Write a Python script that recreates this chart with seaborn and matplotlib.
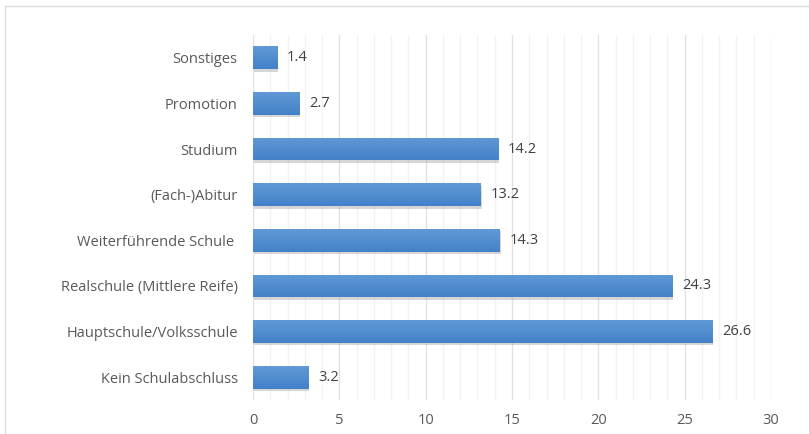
import numpy as np
import pandas as pd
import matplotlib
matplotlib.use("Agg")
import matplotlib.pyplot as plt
import matplotlib.patheffects as pe
from matplotlib.ticker import MultipleLocator
import seaborn as sns

categories = [
    "Sonstiges",
    "Promotion",
    "Studium",
    "(Fach-)Abitur",
    "Weiterführende Schule ",
    "Realschule (Mittlere Reife)",
    "Hauptschule/Volksschule",
    "Kein Schulabschluss",
]
values = [1.4, 2.7, 14.2, 13.2, 14.3, 24.3, 26.6, 3.2]
x_ticks = [0, 5, 10, 15, 20, 25, 30]

df = pd.DataFrame({"Abschluss": categories, "Anteil": values})

sns.set_theme(style="white")
plt.rcParams["font.family"] = ["Open Sans", "DejaVu Sans"]

fig = plt.figure(figsize=(8.09, 4.34), dpi=100)
ax = fig.add_axes([0.3127, 0.0783, 0.6403, 0.841])

sns.barplot(data=df, x="Anteil", y="Abschluss", orient="h", ax=ax,
            color="#4F89CC", width=0.5, saturation=1)

# vertical gradient fill and soft drop shadow on every bar
grad = np.linspace(0, 1, 64).reshape(-1, 1)
cmap = matplotlib.colors.LinearSegmentedColormap.from_list(
    "bar", ["#6199D6", "#4381C8"])
for bar in ax.patches:
    bar.set_edgecolor("none")
    bar.set_path_effects([pe.SimplePatchShadow(offset=(0.5, -1.8),
                                               shadow_rgbFace="#8a8a8a",
                                               alpha=0.35),
                          pe.Normal()])
    x0, y0 = bar.get_x(), bar.get_y()
    w, h = bar.get_width(), bar.get_height()
    im = ax.imshow(grad, cmap=cmap, aspect="auto",
                   extent=(x0, x0 + w, y0 + h, y0), zorder=bar.get_zorder() + 0.1,
                   interpolation="bicubic")
    im.set_clip_path(bar)

for bar, v in zip(ax.patches, values):
    ax.annotate(f"{v}", xy=(v, bar.get_y() + bar.get_height() / 2),
                xytext=(7, 0), textcoords="offset points",
                va="center", ha="left", fontsize=10.5, color="#404040")

ax.set_xlim(0, 30)
ax.set_ylim(7.5, -0.5)
ax.set_xticks(x_ticks)
ax.xaxis.set_minor_locator(MultipleLocator(1))
ax.grid(axis="x", which="major", color="#E2E2E2", linewidth=1.0, zorder=0)
ax.grid(axis="x", which="minor", color="#F3F3F3", linewidth=1.0, zorder=0)
ax.set_axisbelow(True)
ax.set_xlabel("")
ax.set_ylabel("")
for s in ax.spines.values():
    s.set_visible(False)
ax.tick_params(axis="y", length=0, pad=11, labelsize=10.5, labelcolor="#595959")
ax.tick_params(axis="x", which="both", length=0, pad=9, labelsize=10.5,
               labelcolor="#595959")

# chart frame along the top and left edges
fig.add_artist(plt.Line2D([5 / 809, 1], [1 - 6 / 434, 1 - 6 / 434],
                          transform=fig.transFigure, color="#DDDDDD", lw=1))
fig.add_artist(plt.Line2D([5 / 809, 5 / 809], [0, 1 - 6 / 434],
                          transform=fig.transFigure, color="#DDDDDD", lw=1))

fig.savefig("out.png", dpi=100)
